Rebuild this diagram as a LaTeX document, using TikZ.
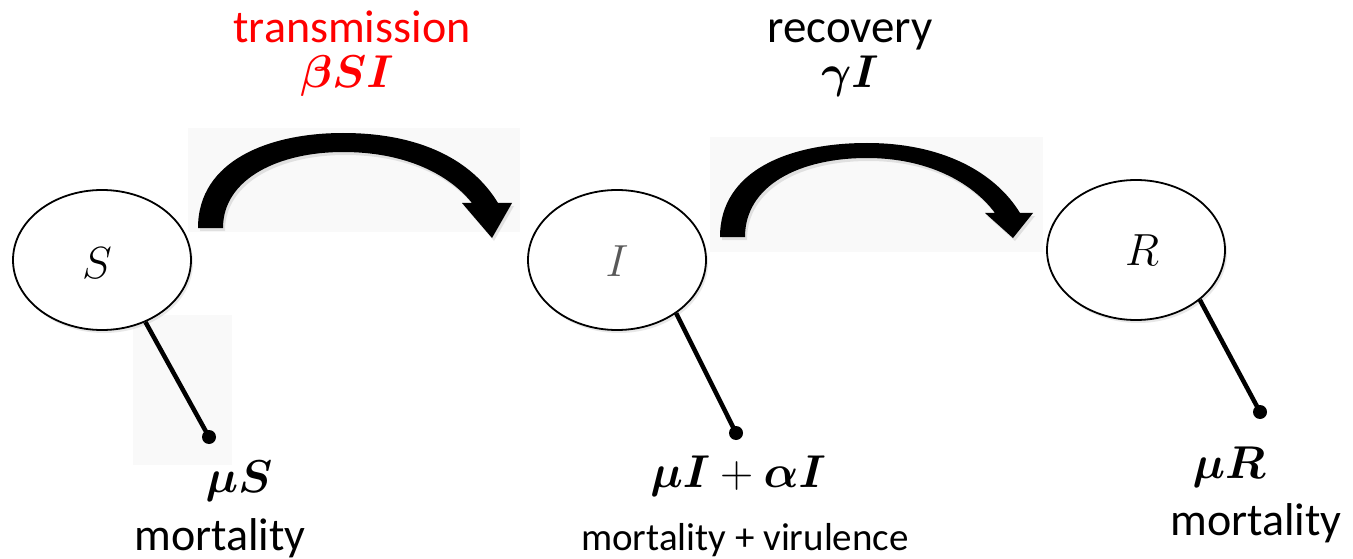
\RequirePackage{fix-cm}
\documentclass[tikz,border=0pt]{standalone}
\usepackage{bm}
\usepackage[no-math]{fontspec}
\setmainfont{Carlito}
\usetikzlibrary{shapes.geometric,shadows}
\definecolor{bgbox}{HTML}{F9F9F9}
\definecolor{igray}{HTML}{595959}
\begin{document}
\begin{tikzpicture}[x=1pt,y=-1pt,
  state/.style={ellipse,draw=black,line width=1.8pt,fill=white,minimum width=178pt,minimum height=140pt,inner sep=0pt,
    drop shadow={opacity=0.18,shadow xshift=2pt,shadow yshift=-3pt}},
  statelbl/.style={font={\fontsize{45}{49}\selectfont}},
  dotnode/.style={circle,fill=black,inner sep=0pt,minimum size=14pt},
  loss/.style={line width=4.5pt},
  flow/.style={fill=black,drop shadow={opacity=0.2,shadow xshift=2pt,shadow yshift=-3pt}},
  lbl/.style={anchor=base,font={\fontsize{46}{50}\selectfont}},
  mlbl/.style={anchor=base,font={\fontsize{46}{50}\selectfont}},
  bg/.style={fill=bgbox,draw=none}]
\useasboundingbox (0,0) rectangle (1353,559);
% faint background boxes
\path[bg] (188,128) rectangle (520,232);
\path[bg] (710,137) rectangle (1043,252);
\path[bg] (133,315) rectangle (232,465);
% states
\node[state] (S) at (102,260) {};
\node[state] (I) at (617,260) {};
\node[state] (R) at (1136,250) {};
\node[statelbl] at ([xshift=-5pt,yshift=-3pt]S) {$S$};
\node[statelbl,text=igray] at ([yshift=-1pt]I) {$I$};
\node[statelbl] at ([xshift=6pt]R) {$R$};
% transmission arrow
\path[flow] (198,228) .. controls (198,160) and (270,133) .. (343,133)
  .. controls (420,133) and (472,160) .. (498,203) -- (512,203) -- (492,238) -- (462,203) -- (472,203)
  .. controls (447,172) and (402,152) .. (343,152)
  .. controls (280,152) and (223,178) .. (223,228) -- cycle;
% recovery arrow
\path[flow] (720,237) .. controls (720,170) and (790,143) .. (867,143)
  .. controls (942,143) and (995,172) .. (1020,213) -- (1033,213) -- (1013,238) -- (985,213) -- (995,213)
  .. controls (972,182) and (927,158) .. (867,158)
  .. controls (800,158) and (745,185) .. (745,237) -- cycle;
% loss lines
\node[dotnode] (Sd) at (209,437) {};
\node[dotnode] (Id) at (736,433) {};
\node[dotnode] (Rd) at (1260,412) {};
\draw[loss] (S.305) -- (Sd.center);
\draw[loss] (I.318) -- (Id.center);
\draw[loss] (R.322) -- (Rd.center);
% labels
\node[lbl,text=red] (tr) at (352,43) {transmission};
\node[mlbl,text=red] (tre) at (347,88) {$\bm{\beta S I}$};
\node[lbl,font={\fontsize{47}{51}\selectfont}] (rc) at (850,43) {recovery};
\node[mlbl] (rce) at (850,88) {$\bm{\gamma I}$};
\node[mlbl] (ms) at (239,492) {$\bm{\mu S}$};
\node[lbl] (mst) at (220,550) {mortality};
\node[mlbl] (mi) at (738,487) {$\bm{\mu I} + \bm{\alpha I}$};
\node[lbl,font={\fontsize{39}{43}\selectfont}] (mit) at (745,550) {mortality + virulence};
\node[mlbl] (mr) at (1229,478) {$\bm{\mu R}$};
\node[lbl] (mrt) at (1256,535) {mortality};
\end{tikzpicture}
\end{document}
